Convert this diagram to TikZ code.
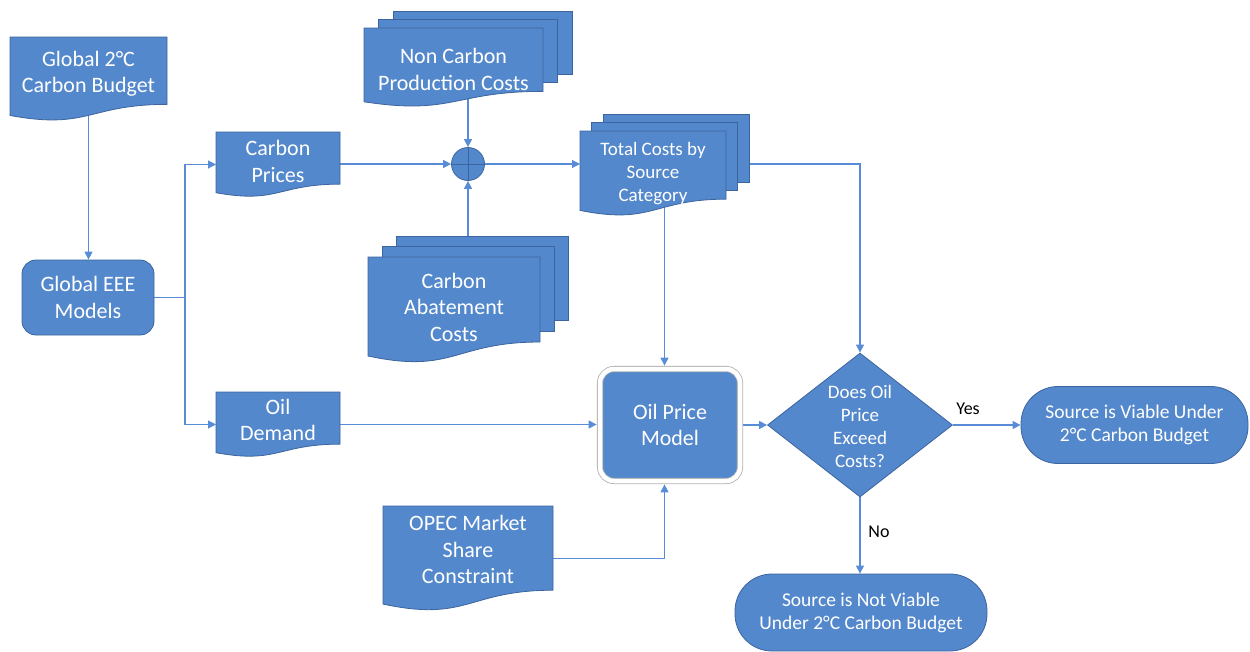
\documentclass[tikz,border=0pt]{standalone}
\usepackage{fontspec}
\setmainfont{Carlito}
\usetikzlibrary{arrows.meta,shapes.geometric,calc,shadows}
\pgfdeclarelayer{connectors}
\pgfdeclarelayer{shapes}
\pgfsetlayers{connectors,shapes,main}
\definecolor{boxfill}{RGB}{84,136,204}
\definecolor{boxline}{RGB}{60,100,158}
\definecolor{connline}{RGB}{88,140,214}
\tikzset{
  x=1pt, y=-1pt,
  conn/.style={draw=connline, line width=1.1pt, -{Triangle[length=8pt,width=8pt]}},
  docarea/.style={inner sep=0pt, outer sep=0pt, anchor=north west},
  sheet/.style={fill=boxfill, draw=boxline, line width=0.8pt},
  bigtext/.style={text=white, align=center, font=\fontsize{22}{26.5}\selectfont, inner sep=0pt},
  midtext/.style={text=white, align=center, font=\fontsize{19}{23}\selectfont, inner sep=0pt},
  roundbox/.style={fill=boxfill, draw=boxline, line width=0.8pt, rounded corners=14pt,
    text=white, align=center, font=\fontsize{22}{26.5}\selectfont, inner sep=0pt},
  terminalbox/.style={fill=boxfill, draw=boxline, line width=0.8pt, rounded corners=37pt,
    text=white, align=center, font=\fontsize{19.5}{23}\selectfont, inner sep=0pt},
  opmbox/.style={fill=boxfill, draw=black!30, line width=0.8pt, double=white, double distance=4.5pt,
    rounded corners=14pt, minimum width=140, minimum height=112,
    drop shadow={opacity=0.25, shadow xshift=1.5pt, shadow yshift=-2pt},
    text=white, align=center, font=\fontsize{22}{26.5}\selectfont, inner sep=0pt},
  decision/.style={diamond, fill=boxfill, draw=boxline, line width=0.8pt, inner sep=0pt,
    minimum width=185, minimum height=144},
  junction/.style={circle, fill=boxfill, draw=boxline, line width=0.8pt, inner sep=0pt, minimum size=33},
  answer/.style={text=black, font=\fontsize{18}{22}\selectfont, inner sep=0pt},
}
% document outline with top-left (x,y), width w, height h
\newcommand\docpathcmd[4]{(#1,#2) -- ({#1+#3},#2) -- ({#1+#3},{#2+0.802*#4})
  .. controls ({#1+0.5*#3},{#2+0.802*#4}) and ({#1+0.5*#3},{#2+1.1075*#4}) .. (#1,{#2+0.934*#4}) -- cycle}
\newcommand\docnode[5]{%
  \node[docarea, minimum width=#4, minimum height=#5] (#1) at (#2,#3) {};
  \begin{pgfonlayer}{shapes}\path[sheet] \docpathcmd{#2}{#3}{#4}{#5};\end{pgfonlayer}}
% name, x, y, w, h, dx, dy of the front sheet
\newcommand\multidocnode[7]{%
  \node[docarea, minimum width={#4+2*#6}, minimum height={#5+2*#7}] (#1) at (#2,{#3-2*#7}) {};
  \begin{pgfonlayer}{shapes}
    \path[sheet] ({#2+2*#6},{#3-2*#7}) rectangle ++(#4,{0.8*#5});
    \path[sheet] ({#2+#6},{#3-#7}) rectangle ++(#4,{0.8*#5});
    \path[sheet] \docpathcmd{#2}{#3}{#4}{#5};
  \end{pgfonlayer}}
\begin{document}
\begin{tikzpicture}
\useasboundingbox (0,0) rectangle (1250,651);

% documents
\docnode{budget}{10}{37}{157}{84}
\node[bigtext] (budget-t) at (88.5,73.5) {Global 2°C\\Carbon Budget};

\docnode{cprice}{216}{132}{124}{65}
\node[bigtext] (cprice-t) at (278,161.5) {Carbon\\Prices};

\docnode{odem}{216}{392}{124}{65}
\node[bigtext] (odem-t) at (278,420) {Oil\\Demand};

\docnode{opec}{383}{506}{170}{105}
\node[bigtext] (opec-t) at (468,549.5) {OPEC Market\\Share\\Constraint};

\multidocnode{nonc}{364}{28}{179}{79}{14.5}{8.5}
\node[bigtext] (nonc-t) at (453.5,69.5) {Non Carbon\\Production Costs};

\multidocnode{abate}{368}{257}{172}{106}{14}{10.5}
\node[bigtext] (abate-t) at (454,307) {Carbon\\Abatement\\Costs};

\multidocnode{total}{580}{131}{146}{85}{11.5}{8.5}
\node[midtext] (total-t) at (653,173.5) {Total Costs by\\Source\\Category};

% other nodes
\node[roundbox, minimum width=132, minimum height=75] (eee) at (88,297.5) {Global EEE\\Models};
\node[junction] (sum) at (468,164) {};
\draw[boxline, line width=0.8pt] (sum.north) -- (sum.south) (sum.west) -- (sum.east);
\node[opmbox] (opm) at (670,425) {Oil Price\\Model};
\node[decision] (dia) at (860,425) {};
\node[midtext] (dia-t) at (860,426) {Does Oil\\Price\\Exceed\\Costs?};
\node[terminalbox, minimum width=227, minimum height=77] (viable) at (1134.5,425) {Source is Viable Under\\2°C Carbon Budget};
\node[terminalbox, minimum width=252, minimum height=77] (notv) at (861,612.5) {Source is Not Viable\\Under 2°C Carbon Budget};
\node[answer] (yes) at (968,409) {Yes};
\node[answer] (no) at (879,532) {No};
\coordinate (split) at (185,297.5);

% connectors
\begin{pgfonlayer}{connectors}
\draw[conn] (budget.center) -- (budget.center |- eee.north);
\draw[conn] (eee.east) -- (split) |- (cprice.west);
\draw[conn] (split) |- (odem.west);
\draw[conn] (cprice.east |- sum) -- (sum.west);
\draw[conn] (nonc.center) -- (sum.north);
\draw[conn] (abate.center) -- (sum.south);
\draw[conn] (sum.east) -- (sum -| total.west);
\draw[conn] (sum -| total.east) -| (dia.north);
\draw[conn, shorten >=3pt] (total.center) -- (total.center |- opm.north);
\draw[conn, shorten >=3pt] (odem.east) -- (odem.east -| opm.west);
\draw[conn, shorten >=3pt] (opec.east) -| (total.center |- opm.south);
\draw[conn] (opm.east) -- (dia.west);
\draw[conn] (dia.east) -- (viable.west);
\draw[conn] (dia.south) -- (dia.south |- notv.north);
\end{pgfonlayer}
\end{tikzpicture}
\end{document}
